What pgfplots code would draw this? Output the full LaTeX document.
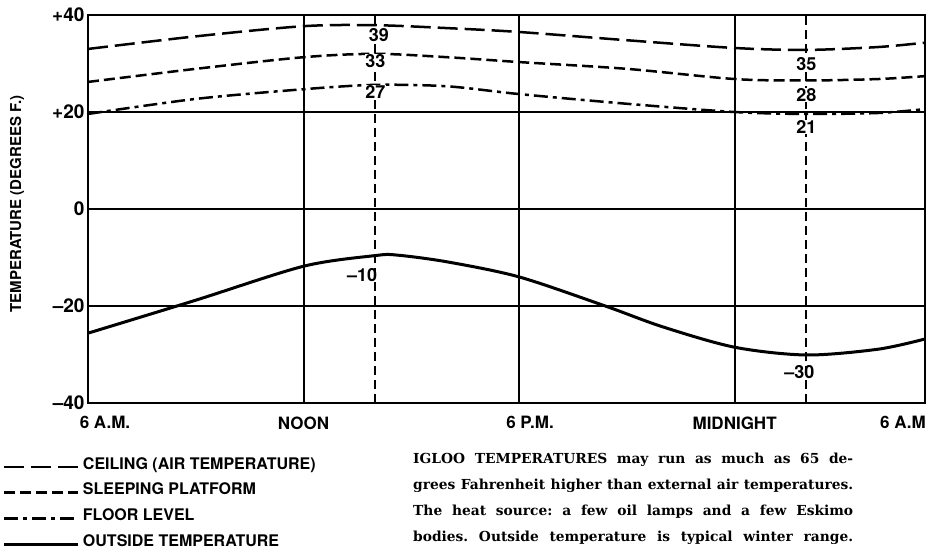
\documentclass[border=0pt]{standalone}
\usepackage{pgfplots}
\pgfplotsset{compat=1.18}
\usepackage{fontspec}
\newfontfamily\chartfont{TeX Gyre Heros}
\newfontfamily\capfont{DejaVu Serif}
\begin{document}
\begin{tikzpicture}
\path[use as bounding box] (-88pt,-152pt) rectangle (845pt,403pt);
\begin{axis}[
  scale only axis, width=837pt, height=388pt,
  xmin=0, xmax=23.3, ymin=-40, ymax=40,
  axis line style={line width=2pt},
  xtick={0,6,12,18,23.3},
  xticklabels={\hspace*{34pt}6 A.M., NOON, \hspace*{22pt}6 P.M., MIDNIGHT, 6 A.M\hspace*{44pt}},
  ytick={-40,-20,0,20,40},
  yticklabels={–40,–20,0,+20,+40},
  major tick length=0pt,
  xmajorgrids, ymajorgrids,
  major x grid style={line width=2pt, black},
  major y grid style={line width=1.2pt, black},
  tick label style={font=\chartfont\bfseries\fontsize{17}{20}\selectfont},
  yticklabel style={font=\chartfont\bfseries\fontsize{19}{22}\selectfont},
  xticklabel style={yshift=-10pt},
  ylabel={TEMPERATURE (DEGREES F.)},
  ylabel style={font=\chartfont\bfseries\fontsize{15}{18}\selectfont, at={(axis description cs:-0.0848,0.513)}, anchor=center},
  legend style={at={(axis description cs:-0.1016,-0.1392)}, anchor=north west, draw=none, fill=none,
    font=\chartfont\bfseries\fontsize{16}{19}\selectfont, inner sep=0pt, outer sep=0pt,
    nodes={inner sep=0pt, text height=12pt, text depth=0pt}, row sep=13.7pt, column sep=3pt},
  legend cell align=left,
  legend image code/.code={\draw[#1] (0pt,-4pt) -- (74pt,-4pt);},
]
\addplot[black, line width=2.5pt, smooth, dash pattern=on 20pt off 7pt] coordinates {
 (0,33.0) (3,35.6) (6,37.7) (8,37.9) (10,37.3) (12,36.5) (15,34.8) (18,33.2) (20,32.8) (22,33.4) (23.3,34.3)};
\addlegendentry{CEILING (AIR TEMPERATURE)}
\addplot[black, line width=2.5pt, smooth, dash pattern=on 11pt off 5pt] coordinates {
 (0,26.2) (3,28.9) (6,31.3) (8,32.0) (10,31.3) (12,30.3) (15,28.9) (18,26.8) (20,26.5) (22,26.8) (23.3,27.4)};
\addlegendentry{SLEEPING PLATFORM}
\addplot[black, line width=2.5pt, smooth, dash pattern=on 14pt off 5pt on 4pt off 5pt] coordinates {
 (0,19.6) (3,22.7) (6,24.7) (8,25.6) (10,25.3) (12,23.7) (15,21.7) (18,20.0) (20,19.6) (22,19.8) (23.3,20.6)};
\addlegendentry{FLOOR LEVEL}
\addplot[black, line width=3pt, smooth] coordinates {
 (0,-25.6) (3,-18.8) (6,-11.8) (8,-9.6) (8.6,-9.5) (10,-10.9) (12,-14.0) (14.4,-20.0) (16,-24.3) (18,-28.5) (20,-30.1) (22,-28.9) (23.3,-26.8)};
\addlegendentry{OUTSIDE TEMPERATURE}
\addplot[forget plot, black, line width=2pt, dash pattern=on 9pt off 5pt] coordinates {(8,-40) (8,40)};
\addplot[forget plot, black, line width=2pt, dash pattern=on 9pt off 5pt] coordinates {(20,-40) (20,40)};
\begin{scope}[every node/.style={font=\chartfont\bfseries\fontsize{18}{20}\selectfont, fill=white, inner sep=0.5pt}]
\node at (axis cs:8.1,35.8) {39};
\node at (axis cs:8.0,30.5) {33};
\node at (axis cs:8.0,24.1) {27};
\node[fill=none] at (axis cs:7.63,-13.6) {–10};
\node at (axis cs:20.0,29.9) {35};
\node at (axis cs:20.0,23.5) {28};
\node at (axis cs:20.0,16.9) {21};
\node[fill=none] at (axis cs:19.8,-33.6) {–30};
\end{scope}
\end{axis}
\node[anchor=north west, inner sep=0pt] at (325pt,-50pt) {\parbox[t]{440pt}{\capfont\bfseries\fontsize{13.8}{25.8}\selectfont\frenchspacing\spaceskip=0.24em plus 0.6em minus 0.04em\parfillskip=0pt\relax\hyphenpenalty=10000
IGLOO TEMPERATURES may run as much as 65 de-\linebreak
grees Fahrenheit higher than external air temperatures.\linebreak
The heat source: a few oil lamps and a few Eskimo\linebreak
bodies. Outside temperature is typical winter range.}};
\end{tikzpicture}
\end{document}
